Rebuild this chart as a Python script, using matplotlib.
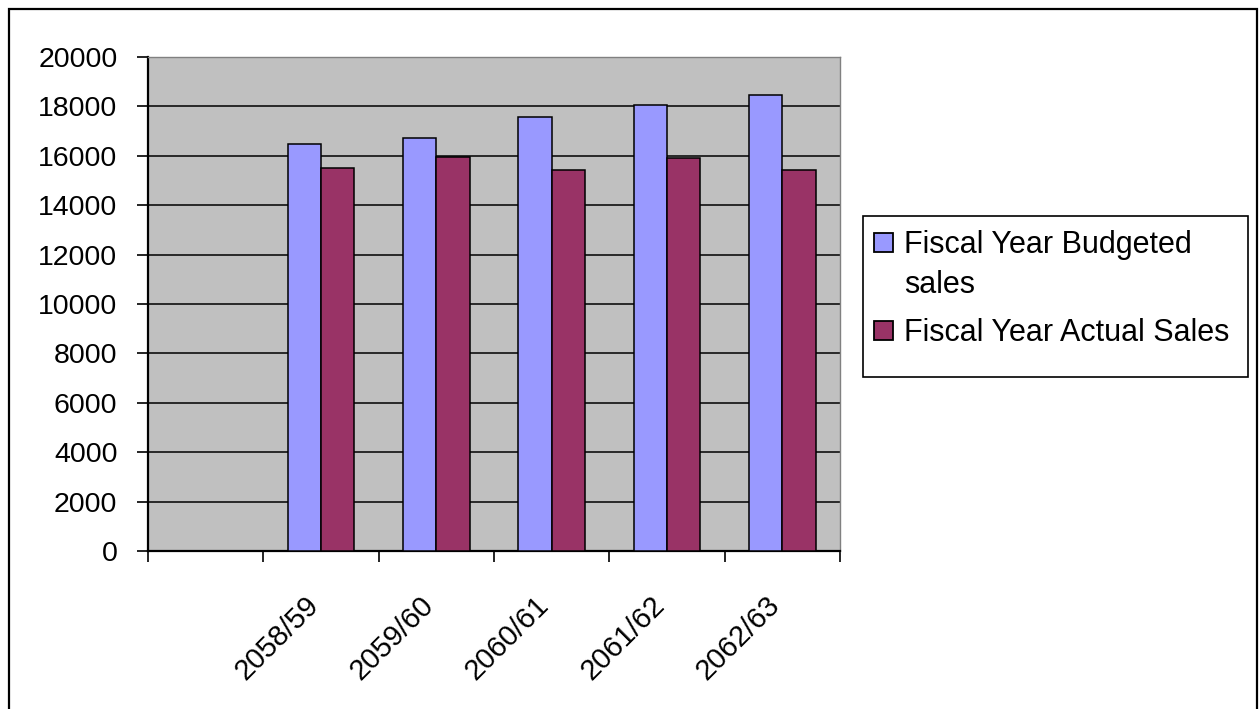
import numpy as np
import matplotlib
matplotlib.use("Agg")
import matplotlib.pyplot as plt
import matplotlib.transforms as mtransforms
from matplotlib.patches import Rectangle

plt.rcParams['font.family'] = ['Liberation Sans', 'DejaVu Sans']

years = ['2058/59', '2059/60', '2060/61', '2061/62', '2062/63']
budgeted = [16480, 16730, 17570, 18070, 18480]
actual = [15490, 15970, 15410, 15900, 15420]
series_names = ['Fiscal Year Budgeted\nsales', 'Fiscal Year Actual Sales']
colors = ['#9999FF', '#993366']

W, H = 1259, 709
fig = plt.figure(figsize=(W / 100, H / 100), dpi=100)
fig.patch.set_facecolor('white')

def px(x, y):
    # pixel position (from top-left) -> figure fraction
    return x / W, 1 - y / H

# outer chart border (bottom edge runs off the canvas)
fig.patches.append(Rectangle((9 / W, -0.05), (1257 - 9) / W, 1.05 - 9 / H,
                             transform=fig.transFigure, fill=False,
                             edgecolor='black', lw=1.6, clip_on=False))

ax = fig.add_axes([148 / W, 1 - 551 / H, (840 - 148) / W, (551 - 57) / H])
ax.set_facecolor('#C0C0C0')

# first slot of the category axis is left empty
x = np.arange(len(years)) + 1
bw = 0.29
ax.bar(x - bw / 2, budgeted, bw, color=colors[0], edgecolor='black', lw=1.1, zorder=3)
ax.bar(x + bw / 2, actual, bw, color=colors[1], edgecolor='black', lw=1.1, zorder=3)

ax.set_xlim(-0.5, len(years) + 0.5)
ax.set_ylim(0, 20000)
ax.set_yticks(np.arange(0, 20001, 2000))
ax.yaxis.grid(True, color='black', lw=1.1)
ax.set_axisbelow(True)

ax.set_xticks(np.arange(-0.5, len(years) + 1, 1))
ax.set_xticklabels([])
ax.set_xticks(x, years, minor=True)
ax.tick_params(axis='x', which='major', direction='out', length=8, width=1.2)
ax.tick_params(axis='x', which='minor', length=0, pad=36, labelsize=21)
shift = mtransforms.ScaledTranslation(-7 / 100, 0, fig.dpi_scale_trans)
for lbl in ax.get_xticklabels(minor=True):
    lbl.set_rotation(45)
    lbl.set_ha('right')
    lbl.set_va('center')
    lbl.set_rotation_mode('anchor')
    lbl.set_transform(lbl.get_transform() + shift)
ax.tick_params(axis='y', direction='out', length=8, width=1.2, pad=14, labelsize=20.5)

for s in ['left', 'bottom']:
    ax.spines[s].set_color('black')
    ax.spines[s].set_linewidth(1.6)
for s in ['top', 'right']:
    ax.spines[s].set_color('#808080')
    ax.spines[s].set_linewidth(1.0)

# legend box with swatches and entries
fig.patches.append(Rectangle(px(863, 377), (1248 - 863) / W, (377 - 216) / H,
                             transform=fig.transFigure, fill=False,
                             edgecolor='black', lw=1.2))
for i, (name, c) in enumerate(zip(series_names, colors)):
    top = 233 + i * 88
    fig.patches.append(Rectangle(px(874, top + 19), 19 / W, 19 / H,
                                 transform=fig.transFigure, facecolor=c,
                                 edgecolor='black', lw=1.3))
    fig.text(*px(904, top - 3), name, fontsize=22, va='top', ha='left',
             linespacing=1.42)

fig.savefig('out.png', dpi=100)
